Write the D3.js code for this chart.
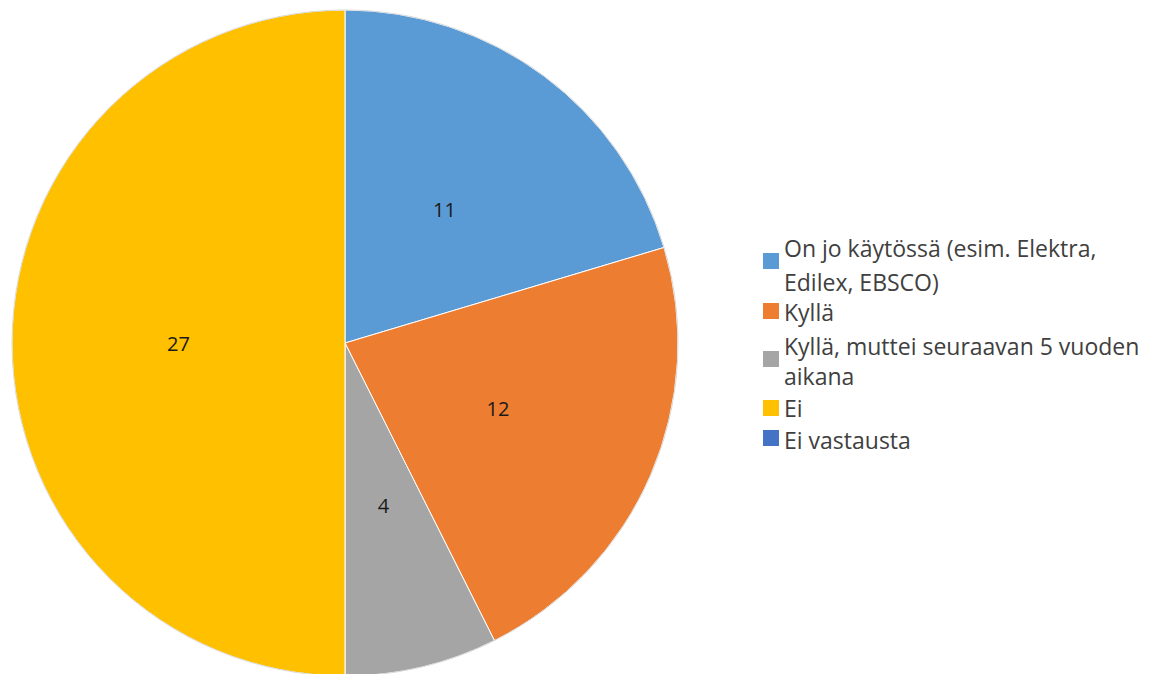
<!DOCTYPE html>
<html><head><meta charset="utf-8">
<script src="https://cdn.jsdelivr.net/npm/d3@7"></script>
<style>body{margin:0;background:#fff;}svg{display:block;}</style>
</head><body>
<svg id="c" width="1151" height="674"></svg>
<script>
const categories = ["On jo käytössä (esim. Elektra, Edilex, EBSCO)", "Kyllä", "Kyllä, muttei seuraavan 5 vuoden aikana", "Ei", "Ei vastausta"];
const legendLines = [["On jo käytössä (esim. Elektra,", "Edilex, EBSCO)"], ["Kyllä"], ["Kyllä, muttei seuraavan 5 vuoden", "aikana"], ["Ei"], ["Ei vastausta"]];
const values = [11, 12, 4, 27, 0];
const colors = ["#5B9BD5", "#ED7D31", "#A5A5A5", "#FFC000", "#4472C4"];

const svg = d3.select("#c");
const cx = 345, cy = 343, R = 333;
const data = categories.map((c, i) => ({cat: c, value: values[i], color: colors[i], lines: legendLines[i]}));
const pie = d3.pie().value(d => d.value).sort(null);
const arcs = pie(data);
const arc = d3.arc().innerRadius(0).outerRadius(R);
const labelArc = d3.arc().innerRadius(R * 0.5).outerRadius(R * 0.5);
const g = svg.append("g").attr("transform", `translate(${cx},${cy})`);
g.selectAll("path").data(arcs.filter(a => a.data.value > 0)).join("path")
  .attr("d", arc).attr("fill", d => d.data.color)
  .attr("stroke", "#fff").attr("stroke-width", 1);
g.append("circle").attr("r", R).attr("fill", "none").attr("stroke", "#d0d0d0").attr("stroke-width", 0.8);
g.selectAll("text.lbl").data(arcs.filter(a => a.data.value > 0)).join("text")
  .attr("class", "lbl")
  .attr("transform", d => `translate(${labelArc.centroid(d)})`)
  .attr("text-anchor", "middle").attr("dominant-baseline", "central")
  .attr("font-family", "'Open Sans', Lato, sans-serif").attr("font-size", 20)
  .attr("fill", "#1a1a1a").text(d => d.data.value);

// legend
const leg = svg.append("g");
const squareY = [261, 311, 359, 408, 438];
const textY = [[248, 282], [312], [346, 376], [408], [440]];
data.forEach((d, i) => {
  leg.append("rect").attr("x", 763).attr("y", squareY[i] - 8).attr("width", 16).attr("height", 16).attr("fill", d.color);
  d.lines.forEach((ln, j) => {
    leg.append("text").attr("x", 784).attr("y", textY[i][j]).attr("dominant-baseline", "central")
      .attr("font-family", "'Open Sans', Lato, sans-serif").attr("font-size", 23).attr("fill", "#404040").text(ln);
  });
});
</script>
</body></html>
